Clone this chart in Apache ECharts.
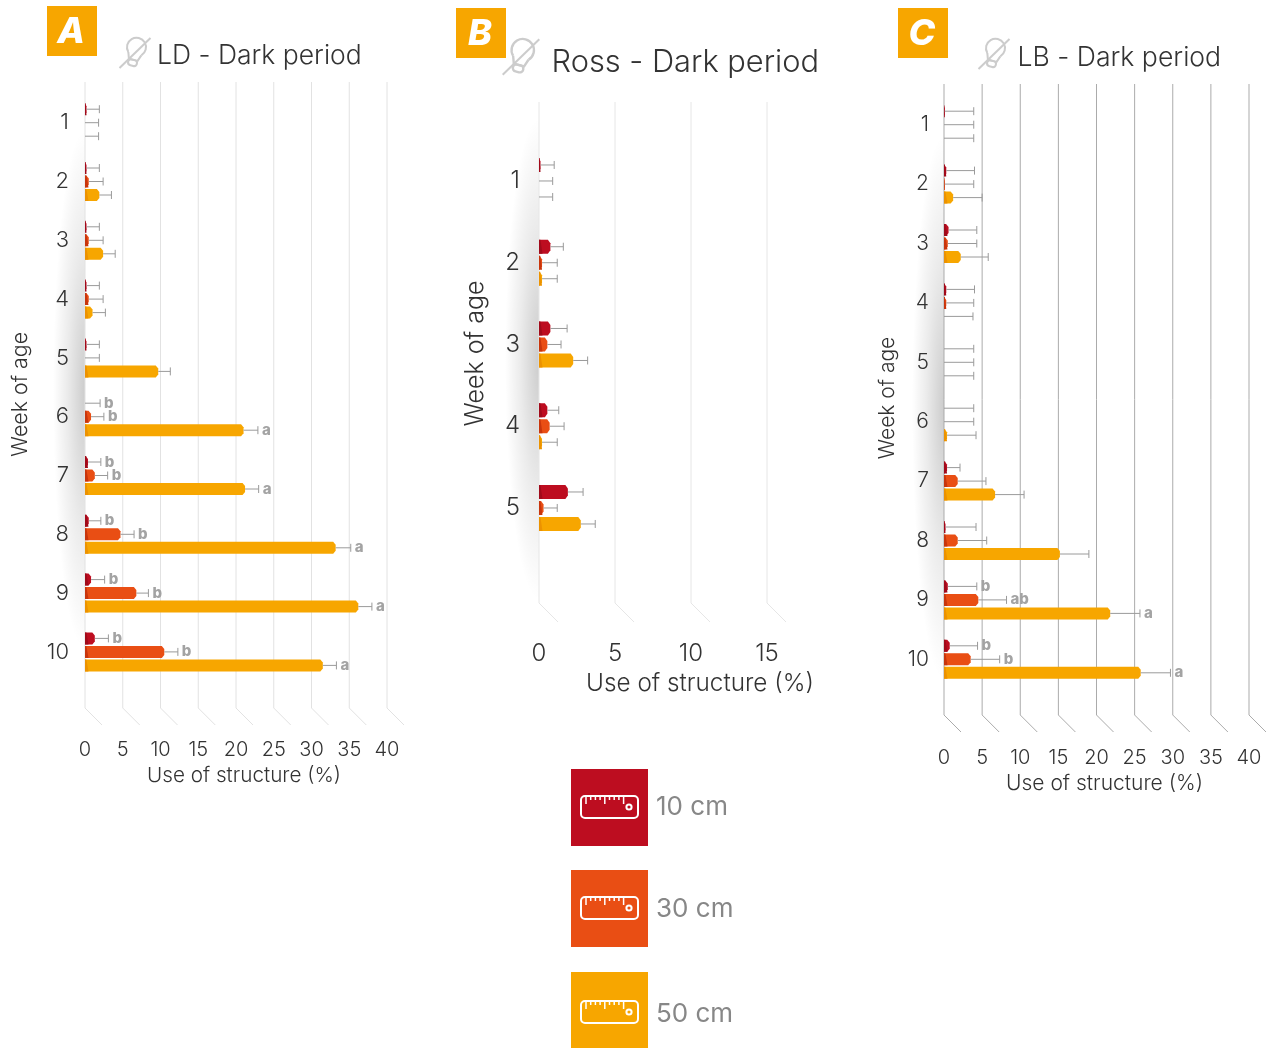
<!DOCTYPE html>
<html>
<head>
<meta charset="utf-8">
<title>Use of structure - Dark period</title>
<script src="https://cdn.jsdelivr.net/npm/echarts@6/dist/echarts.min.js"></script>
<style>
  html, body { margin: 0; padding: 0; background: #fff; }
  #chart { width: 1274px; height: 1048px; }
</style>
</head>
<body>
<div id="chart"></div>
<script>
var sizeNames = ['10 cm', '30 cm', '50 cm']
var sizeColors = ['#bd0d20', '#e94e14', '#f7a600']
var sizeDarkColors = ['#a00a1a', '#c8350c', '#ec9200']

// panel A - LD
var ldWeeks = ['1', '2', '3', '4', '5', '6', '7', '8', '9', '10']
var ldMean10 = [0.2, 0.2, 0.2, 0.2, 0.2, 0, 0.4, 0.5, 0.8, 1.3]
var ldEnd10 = [1.9, 1.9, 1.9, 1.9, 1.9, 2, 2.1, 2.1, 2.6, 3.1]
var ldSig10 = ['', '', '', '', '', 'b', 'b', 'b', 'b', 'b']
var ldMean30 = [0, 0.5, 0.5, 0.5, 0, 0.8, 1.3, 4.7, 6.8, 10.5]
var ldEnd30 = [1.8, 2.4, 2.4, 2.4, 1.9, 2.5, 3, 6.5, 8.4, 12.3]
var ldSig30 = ['', '', '', '', '', 'b', 'b', 'b', 'b', 'b']
var ldMean50 = [0, 1.9, 2.4, 1, 9.7, 21, 21.2, 33.2, 36.2, 31.5]
var ldEnd50 = [1.8, 3.5, 4, 2.7, 11.3, 22.9, 23, 35.2, 38, 33.3]
var ldSig50 = ['', '', '', '', '', 'a', 'a', 'a', 'a', 'a']

// panel B - Ross
var rossWeeks = ['1', '2', '3', '4', '5']
var rossMean10 = [0.1, 0.75, 0.75, 0.55, 1.9]
var rossEnd10 = [1, 1.6, 1.85, 1.3, 2.9]
var rossMean30 = [0, 0.2, 0.55, 0.7, 0.3]
var rossEnd30 = [0.9, 1.2, 1.45, 1.65, 1.2]
var rossMean50 = [0, 0.2, 2.25, 0.2, 2.75]
var rossEnd50 = [0.9, 1.2, 3.2, 1.2, 3.7]

// panel C - LB
var lbWeeks = ['1', '2', '3', '4', '5', '6', '7', '8', '9', '10']
var lbMean10 = [0.1, 0.3, 0.6, 0.3, 0, 0, 0.4, 0.2, 0.5, 0.75]
var lbEnd10 = [3.9, 4, 4.3, 4, 3.9, 3.9, 2.1, 4.2, 4.3, 4.4]
var lbSig10 = ['', '', '', '', '', '', '', '', 'b', 'b']
var lbMean30 = [0, 0.1, 0.5, 0.3, 0, 0, 1.8, 1.8, 4.5, 3.5]
var lbEnd30 = [3.9, 3.9, 4.3, 3.9, 3.9, 3.9, 5.5, 5.6, 8.2, 7.3]
var lbSig30 = ['', '', '', '', '', '', '', '', 'ab', 'b']
var lbMean50 = [0, 1.2, 2.2, 0, 0, 0.4, 6.7, 15.2, 21.8, 25.8]
var lbEnd50 = [3.9, 5, 5.8, 3.8, 3.9, 4.2, 10.5, 19, 25.7, 29.7]
var lbSig50 = ['', '', '', '', '', '', '', '', 'a', 'a']

var font = 'Inter'
var textColor = '#333333'

var chart = echarts.init(document.getElementById('chart'))

var panels = [
  { title: 'LD - Dark period', titleX: 157, titleY: 41, titleSize: 26.5,
    left: 85, top: 93.3, width: 302, height: 588, max: 40,
    lineTop: 82, lineBottom: 708, slant: 17, lineColor: '#e2e2e2',
    barH: 12, barStep: 13.5, letterSize: 15,
    tickSize: 20, labelGap: 59, nameSize: 20.7, nameGap: 83, namePad: 16,
    catSize: 22, catGap: 16, catPad: 8, yNameSize: 21.4, yNameGap: 54, yNamePad: 14,
    weeks: ldWeeks,
    series: [[ldMean10, ldEnd10, ldSig10], [ldMean30, ldEnd30, ldSig30], [ldMean50, ldEnd50, ldSig50]] },
  { title: 'Ross - Dark period', titleX: 551.5, titleY: 48, titleSize: 30.8,
    left: 539, top: 140.1, width: 228, height: 408.75, max: 15,
    lineTop: 102, lineBottom: 603, slant: 19, lineColor: '#e6e6e6',
    barH: 14, barStep: 16, letterSize: 15,
    tickSize: 24, labelGap: 92.6, nameSize: 24.3, nameGap: 122.6, namePad: 94,
    catSize: 24, catGap: 19, catPad: 7, yNameSize: 25, yNameGap: 51, yNamePad: 18,
    weeks: rossWeeks,
    series: [[rossMean10, rossEnd10, []], [rossMean30, rossEnd30, []], [rossMean50, rossEnd50, []]] },
  { title: 'LB - Dark period', titleX: 1017.5, titleY: 43, titleSize: 26.6,
    left: 944, top: 95, width: 305, height: 594, max: 40,
    lineTop: 84, lineBottom: 715, slant: 17, lineColor: '#ababab',
    barH: 12, barStep: 13.5, letterSize: 15,
    tickSize: 20, labelGap: 59, nameSize: 21, nameGap: 84, namePad: 16,
    catSize: 21, catGap: 15, catPad: 8, yNameSize: 21, yNameGap: 46, yNamePad: 12,
    weeks: lbWeeks,
    series: [[lbMean10, lbEnd10, lbSig10], [lbMean30, lbEnd30, lbSig30], [lbMean50, lbEnd50, lbSig50]] }
]

function frameRender(panel) {
  return function (params, api) {
    var x = api.coord([api.value(0), 0])[0]
    var lineStyle = { stroke: panel.lineColor, lineWidth: 1 }
    return {
      type: 'group',
      children: [
        { type: 'line', shape: { x1: x, y1: panel.lineTop, x2: x, y2: panel.lineBottom }, style: lineStyle },
        { type: 'line', shape: { x1: x, y1: panel.lineBottom, x2: x + panel.slant, y2: panel.lineBottom + panel.slant }, style: lineStyle }
      ]
    }
  }
}

// chamfered bar with a darker wedge at the root, whisker and significance letter
function barRender(panel, sizeIndex, letters) {
  return function (params, api) {
    var cat = api.value(0)
    var root = api.coord([0, cat])
    var x0 = root[0]
    var y = root[1] + (sizeIndex - 1) * panel.barStep
    var xv = api.coord([api.value(1), cat])[0]
    var xe = api.coord([api.value(2), cat])[0]
    var h = panel.barH / 2
    var c = Math.min(2.5, xv - x0)
    var wedge = Math.min(3.5, xv - x0)
    var children = []
    if (xv > x0) {
      children.push({
        type: 'polygon',
        shape: { points: [[x0, y - h], [xv - c, y - h], [xv, y - h / 2], [xv, y + h / 2], [xv - c, y + h], [x0, y + h]] },
        style: { fill: sizeColors[sizeIndex] }
      })
      children.push({
        type: 'polygon',
        shape: { points: [[x0, y - h], [x0 + wedge * 0.4, y - h], [x0 + wedge, y + h], [x0, y + h]] },
        style: { fill: sizeDarkColors[sizeIndex] }
      })
    }
    var whisker = { stroke: '#9a9a9a', lineWidth: 1 }
    children.push({ type: 'line', shape: { x1: xv, y1: y, x2: xe, y2: y }, style: whisker })
    children.push({ type: 'line', shape: { x1: xe, y1: y - 4, x2: xe, y2: y + 4 }, style: whisker })
    var letter = letters[params.dataIndex]
    if (letter) {
      children.push({
        type: 'text',
        style: {
          x: xe + 4, y: y, text: letter, fill: '#a3a3a3',
          font: '800 ' + panel.letterSize + 'px ' + font,
          textAlign: 'left', textVerticalAlign: 'middle'
        }
      })
    }
    return { type: 'group', children: children }
  }
}

var option = {
  animation: false,
  backgroundColor: '#fff',
  textStyle: { fontFamily: font },
  title: [],
  grid: [],
  xAxis: [],
  yAxis: [],
  series: [],
  graphic: { elements: [] }
}

panels.forEach(function (panel, i) {
  option.title.push({
    text: panel.title, left: panel.titleX, top: panel.titleY - panel.titleSize / 2 + 15, padding: 0,
    textStyle: { fontFamily: font, fontWeight: 300, fontSize: panel.titleSize, color: textColor }
  })
  option.grid.push({ left: panel.left, top: panel.top, width: panel.width, height: panel.height })
  option.xAxis.push({
    type: 'value', gridIndex: i, min: 0, max: panel.max, interval: 5,
    axisLine: { show: false }, axisTick: { show: false }, splitLine: { show: false },
    axisLabel: { margin: panel.labelGap, fontFamily: font, fontWeight: 300, fontSize: panel.tickSize, color: textColor },
    name: 'Use of structure (%)', nameLocation: 'middle', nameGap: panel.nameGap,
    nameTextStyle: { fontFamily: font, fontWeight: 300, fontSize: panel.nameSize, color: textColor, padding: [0, 0, 0, panel.namePad] }
  })
  option.yAxis.push({
    type: 'category', gridIndex: i, inverse: true, data: panel.weeks,
    axisLine: { show: false }, axisTick: { show: false },
    axisLabel: { margin: panel.catGap, fontFamily: font, fontWeight: 300, fontSize: panel.catSize, color: textColor, padding: [panel.catPad, 0, 0, 0] },
    name: 'Week of age', nameLocation: 'middle', nameRotate: 90, nameGap: panel.yNameGap,
    nameTextStyle: { fontFamily: font, fontWeight: 300, fontSize: panel.yNameSize, color: textColor, padding: [0, panel.yNamePad, 0, 0] }
  })

  var ticks = []
  for (var t = 0; t <= panel.max; t += 5) ticks.push([t])
  option.series.push({
    type: 'custom', xAxisIndex: i, yAxisIndex: i, silent: true, z: 1,
    renderItem: frameRender(panel), encode: { x: 0 }, data: ticks
  })

  panel.series.forEach(function (s, sizeIndex) {
    var rows = panel.weeks.map(function (w, k) { return [k, s[0][k], s[1][k]] })
    option.series.push({
      name: sizeNames[sizeIndex], type: 'custom', xAxisIndex: i, yAxisIndex: i, z: 3,
      renderItem: barRender(panel, sizeIndex, s[2]),
      encode: { y: 0, x: [1, 2] }, data: rows
    })
  })
})

function shade(axisX, reach, yTop, yBottom) {
  var half = (yBottom - yTop) / 2
  return {
    type: 'rect', silent: true, z: -10,
    x: axisX - reach, y: yTop, scaleX: reach / half,
    shape: { x: 0, y: 0, width: half, height: half * 2 },
    style: {
      fill: new echarts.graphic.RadialGradient(half, half, half, [
        { offset: 0, color: 'rgba(0,0,0,0.2)' },
        { offset: 0.55, color: 'rgba(0,0,0,0.08)' },
        { offset: 1, color: 'rgba(0,0,0,0)' }
      ], true)
    }
  }
}

function badge(x, y, letter, dy) {
  return {
    type: 'group', silent: true, children: [
      { type: 'rect', shape: { x: x, y: y, width: 50, height: 50 }, style: { fill: '#f7a600' } },
      { type: 'text', style: {
        x: x + 24, y: y + 25 + dy, text: letter, fill: '#fff',
        font: 'italic 800 36px ' + font, textAlign: 'center', textVerticalAlign: 'middle'
      } }
    ]
  }
}

function bulb(cx, cy, k) {
  var stroke = { stroke: '#cccccc', lineWidth: 2, fill: 'none' }
  return {
    type: 'group', silent: true, children: [
      { type: 'group', x: cx, y: cy, rotation: -0.25, scaleX: k, scaleY: k, children: [
        { type: 'arc', shape: { cx: 0, cy: -6, r: 9.5, startAngle: Math.PI * 0.75, endAngle: Math.PI * 0.25, clockwise: true }, style: stroke },
        { type: 'polyline', shape: { points: [[-6.7, 0.7], [-4.5, 7], [4.5, 7], [6.7, 0.7]] }, style: stroke },
        { type: 'rect', shape: { x: -4.5, y: 7, width: 9, height: 6, r: 3 }, style: stroke }
      ] },
      { type: 'line', shape: { x1: cx - 15.5 * k, y1: cy + 15 * k, x2: cx + 15.5 * k, y2: cy - 15 * k }, style: { stroke: '#cccccc', lineWidth: 2 } }
    ]
  }
}

function legendItem(y, index, iconDy, textDy) {
  var x = 571
  var white = { stroke: '#fff', lineWidth: 2, fill: 'none' }
  var iconY = y + iconDy
  var kids = [
    { type: 'rect', shape: { x: x, y: y, width: 77, height: 77 }, style: { fill: sizeColors[index] } },
    { type: 'rect', shape: { x: x + 10, y: iconY + 27, width: 57, height: 22, r: 4 }, style: white },
    { type: 'circle', shape: { cx: x + 58, cy: iconY + 38, r: 2.6 }, style: white },
    { type: 'text', style: {
      x: x + 85, y: y + 37 + textDy, text: sizeNames[index], fill: '#878787',
      font: '400 26px ' + font, textAlign: 'left', textVerticalAlign: 'middle'
    } }
  ]
  for (var n = 0; n < 9; n++) {
    var tx = x + 15 + n * 4.7
    var len = n % 4 === 0 ? 8 : 4
    kids.push({ type: 'line', shape: { x1: tx, y1: iconY + 27, x2: tx, y2: iconY + 27 + len }, style: { stroke: '#fff', lineWidth: 1.5 } })
  }
  return { type: 'group', silent: true, children: kids }
}

option.graphic.elements = [
  shade(85, 32, 130, 650),
  shade(539, 34, 118, 600),
  shade(944, 32, 135, 680),
  badge(47, 6, 'A', 1),
  badge(456, 8, 'B', 1),
  badge(898, 8, 'C', 1),
  bulb(135, 53, 1),
  bulb(521, 57, 1.18),
  bulb(994, 54, 1),
  legendItem(769, 0, 0, 1),
  legendItem(870, 1, 0, 2),
  legendItem(972, 2, 2, 5)
]

chart.setOption(option)
</script>
</body>
</html>
